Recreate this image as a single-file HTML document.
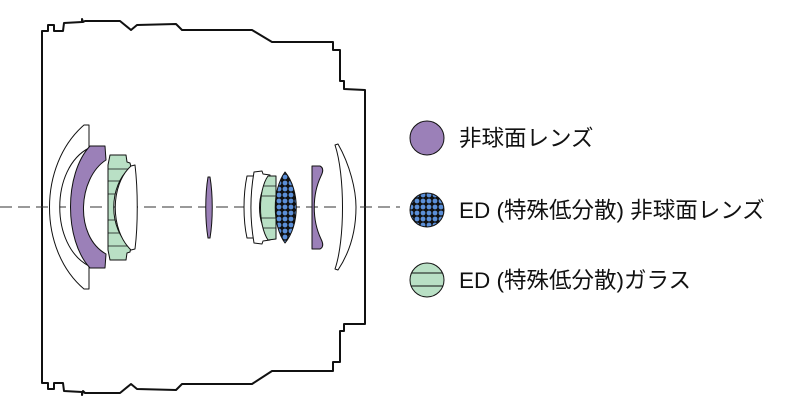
<!DOCTYPE html>
<html><head><meta charset="utf-8"><style>
body{margin:0;background:#fff;width:800px;height:404px;overflow:hidden}
svg{position:absolute;left:0;top:0}
.t{font-family:"Liberation Sans","Noto Sans CJK JP",sans-serif;font-size:22.5px;fill:#111}
</style></head><body>
<svg width="800" height="404" viewBox="0 0 800 404">
<defs>
<pattern id="dots" width="6" height="6" patternUnits="userSpaceOnUse">
<rect width="6" height="6" fill="#111"/><circle cx="3" cy="3" r="2.4" fill="#5b8fd8"/>
</pattern>
<clipPath id="gclip"><path d="M110,155 L126,155 L127,162 L130,163 L131,167 C108,185 108,230 131,247 L130,252 L127,253 L126,260 L110,260 L108,250 L108,165 Z"/></clipPath>
<clipPath id="g2clip"><path d="M276,176 L276,239 L268,240 C258,225 258,190 268,176 Z"/></clipPath>
<clipPath id="lgc"><circle cx="427" cy="280" r="17"/></clipPath>
</defs>
<path d="M42,31 L48,31 L48,25 L54,25 L54,31 L63,31 L64,23 L82,22 L82,19 L83,22 L85,21 L120,21 L131,30 L137,25 L176,24 L182,30 L252,30 L272,42 L333,42 L333,50 L340,50 L340,81 L344,81 L344,89 L365,90 L365,324 L344,324 L344,331 L340,331 L340,362 L333,362 L333,371 L272,371 L252,384 L182,384 L176,390 L137,389 L131,384 L120,393 L85,393 L83,391 L82,395 L82,392 L64,391 L63,383 L54,383 L54,389 L48,389 L48,383 L42,383 Z" fill="none" stroke="#111" stroke-width="2" stroke-linejoin="round"/>
<line x1="0" y1="207" x2="400" y2="207" stroke="#333" stroke-width="1" stroke-dasharray="12,6"/>
<g stroke="#111" stroke-width="1" stroke-linejoin="round">
<path d="M84,125 C38,165 38,250 84,289 L89,289 L89,266 C50,246 50,168 89,148 L89,125 Z" fill="#fff"/>
<path d="M90,146 L105,146 L106,160 C78,178 74,236 106,254 L105,268 L90,268 C64,240 64,174 90,146 Z" fill="#9b80b8"/>
<path d="M110,155 L126,155 L127,162 L130,163 L131,167 C108,185 108,230 131,247 L130,252 L127,253 L126,260 L110,260 L108,250 L108,165 Z" fill="#b9e0c5"/>
<g clip-path="url(#gclip)" stroke-width="0.8">
<line x1="105" y1="169" x2="135" y2="169"/><line x1="105" y1="181" x2="135" y2="181"/><line x1="105" y1="194" x2="135" y2="194"/><line x1="105" y1="220" x2="135" y2="220"/><line x1="105" y1="233" x2="135" y2="233"/><line x1="105" y1="246" x2="135" y2="246"/>
</g>
<path d="M131,166 L135,165 C138,190 138,225 135,249 L131,250 C110,230 110,185 131,166 Z" fill="#fff"/>
<path d="M208,177 L210,177 C213,195 213,220 210,238 L208,238 C205,220 205,195 208,177 Z" fill="#9b80b8"/>
<path d="M247,176 L254,176 C252,195 252,220 254,238 L247,238 C243,220 243,195 247,176 Z" fill="#fff"/>
<path d="M254,172 L262,171 L263,174 L270,175 L270,178 C256,192 256,224 270,237 L270,240 L263,241 L262,244 L254,243 C250,220 250,195 254,172 Z" fill="#fff"/>
<path d="M268,176 L276,176 L276,239 L268,240 C258,225 258,190 268,176 Z" fill="#b9e0c5"/>
<g clip-path="url(#g2clip)" stroke-width="0.8">
<line x1="255" y1="186" x2="280" y2="186"/><line x1="255" y1="196" x2="280" y2="196"/><line x1="255" y1="218" x2="280" y2="218"/><line x1="255" y1="228" x2="280" y2="228"/>
</g>
<path d="M285,172 C300,190 300,225 285,243 C272,225 272,190 285,172 Z" fill="url(#dots)"/>
<path d="M312,166 L320,166 C324,168 323,172 321,176 C312,195 312,220 321,239 C323,243 324,247 320,249 L312,249 Z" fill="#9b80b8"/>
<path d="M335,145 L338,144 C350,165 356,190 356,207 C356,230 350,252 338,270 L335,269 C345,240 345,175 335,145 Z" fill="#fff"/>
</g>
<circle cx="427" cy="138" r="17" fill="#9b80b8" stroke="#111" stroke-width="1"/>
<circle cx="427" cy="210" r="17" fill="url(#dots)" stroke="#111" stroke-width="1"/>
<circle cx="427" cy="280" r="17" fill="#b9e0c5" stroke="#111" stroke-width="1"/>
<g clip-path="url(#lgc)" stroke="#111" stroke-width="1"><line x1="405" y1="273" x2="450" y2="273"/><line x1="405" y1="286" x2="450" y2="286"/></g>
<text class="t" x="459" y="146">非球面レンズ</text>
<text class="t" x="459" y="218">ED (特殊低分散) 非球面レンズ</text>
<text class="t" x="459" y="288">ED (特殊低分散)ガラス</text>
</svg>
</body></html>
